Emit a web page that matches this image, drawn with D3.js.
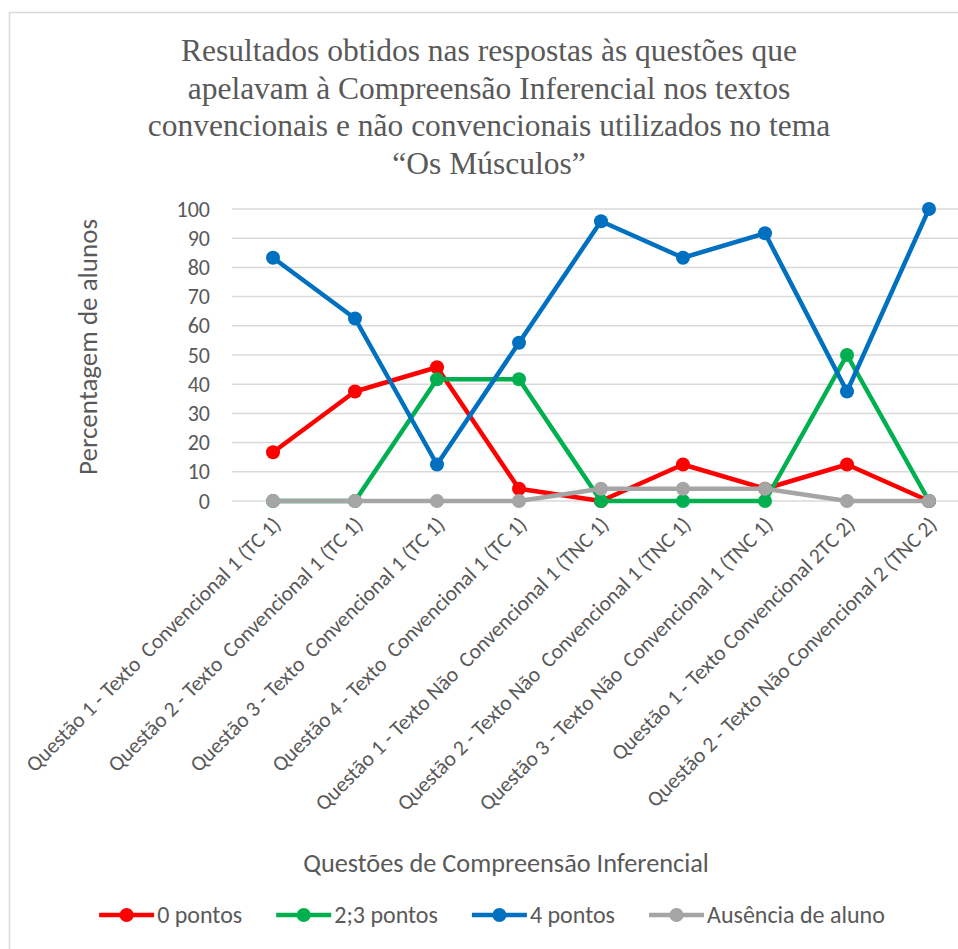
<!DOCTYPE html>
<html>
<head>
<meta charset="utf-8">
<script src="https://cdn.jsdelivr.net/npm/d3@7"></script>
<style>
  body { margin: 0; background: #fff; }
  text { white-space: pre; }
</style>
</head>
<body>
<div id="chart"></div>
<script>
// categories (keep double spaces as in the original labels)
var categories = [
    "Questão 1 - Texto  Convencional 1 (TC 1)",
    "Questão 2 - Texto  Convencional 1 (TC 1)",
    "Questão 3 - Texto  Convencional 1 (TC 1)",
    "Questão 4 - Texto  Convencional 1 (TC 1)",
    "Questão 1 - Texto Não  Convencional 1 (TNC 1)",
    "Questão 2 - Texto Não  Convencional 1 (TNC 1)",
    "Questão 3 - Texto Não  Convencional 1 (TNC 1)",
    "Questão 1 - Texto Convencional 2TC 2)",
    "Questão 2 - Texto Não Convencional 2 (TNC 2)"
];
var seriesNames = ["0 pontos", "2;3 pontos", "4 pontos", "Ausência de aluno"];
var zeroPontos     = [16.7, 37.5, 45.8, 4.2, 0, 12.5, 4.2, 12.5, 0];
var doisTresPontos = [0, 0, 41.7, 41.7, 0, 0, 0, 50, 0];
var quatroPontos   = [83.3, 62.5, 12.5, 54.2, 95.8, 83.3, 91.7, 37.5, 100];
var ausencia       = [0, 0, 0, 0, 4.2, 4.2, 4.2, 0, 0];
var yTicks = [0, 10, 20, 30, 40, 50, 60, 70, 80, 90, 100];
var titleLines = [
    "Resultados obtidos nas respostas às questões que",
    "apelavam à Compreensão Inferencial nos textos",
    "convencionais e não convencionais utilizados no tema",
    "“Os Músculos”"
];
var yTitle = "Percentagem de alunos";
var xTitle = "Questões de Compreensão Inferencial";
var colors = ["#FF0000", "#00B050", "#0070C0", "#A5A5A5"];

var width = 958, height = 949;
var sans = "Carlito, Calibri, Lato, sans-serif";
var textColor = "#595959";

var series = [zeroPontos, doisTresPontos, quatroPontos, ausencia].map(function(vals, i) {
    return { name: seriesNames[i], color: colors[i],
             values: vals.map(function(v, j) { return { cat: categories[j], v: v }; }) };
});

var svg = d3.select("#chart").append("svg")
    .attr("width", width)
    .attr("height", height);

// outer chart border (runs off the right/bottom like the crop)
svg.append("rect")
    .attr("x", 9.5).attr("y", 12.5)
    .attr("width", 1000).attr("height", 1000)
    .attr("fill", "#fff")
    .attr("stroke", "#d9d9d9")
    .attr("stroke-width", 1.5);

var x = d3.scaleBand().domain(categories).range([232, 970]);
var y = d3.scaleLinear().domain([0, 100]).range([501, 209]);

// title
svg.append("text")
    .attr("text-anchor", "middle")
    .attr("font-family", "'Liberation Serif', 'Times New Roman', serif")
    .attr("font-size", 31.5)
    .attr("fill", textColor)
    .selectAll("tspan")
    .data(titleLines)
    .enter().append("tspan")
    .attr("x", 489)
    .attr("y", function(d, i) { return 61 + i * 37.7; })
    .text(function(d) { return d; });

// gridlines
svg.append("g")
    .selectAll("line")
    .data(yTicks)
    .enter().append("line")
    .attr("x1", x.range()[0]).attr("x2", x.range()[1])
    .attr("y1", function(d) { return y(d); })
    .attr("y2", function(d) { return y(d); })
    .attr("stroke", "#d9d9d9")
    .attr("stroke-width", 1.5);

// y axis labels
var yAxis = svg.append("g")
    .attr("transform", "translate(210,0)")
    .call(d3.axisLeft(y).tickValues(yTicks).tickSize(0).tickPadding(0));
yAxis.select(".domain").remove();
yAxis.selectAll("text")
    .attr("font-family", sans)
    .attr("font-size", 22)
    .attr("fill", textColor);

// x axis labels, rotated
var xAxis = svg.append("g")
    .attr("transform", "translate(0,501)")
    .call(d3.axisBottom(x).tickSize(0).tickPadding(0));
xAxis.select(".domain").remove();
xAxis.selectAll("text")
    .attr("font-family", sans)
    .attr("font-size", 21.5)
    .attr("fill", textColor)
    .attr("text-anchor", "end")
    .attr("dy", "0")
    .attr("y", 0)
    .attr("transform", "translate(9,25) rotate(-45)");

// axis titles
svg.append("text")
    .attr("transform", "translate(97,347) rotate(-90)")
    .attr("text-anchor", "middle")
    .attr("font-family", sans)
    .attr("font-size", 27)
    .attr("fill", textColor)
    .text(yTitle);

svg.append("text")
    .attr("x", 506).attr("y", 872)
    .attr("text-anchor", "middle")
    .attr("font-family", sans)
    .attr("font-size", 26.3)
    .attr("fill", textColor)
    .text(xTitle);

// lines + markers
var line = d3.line()
    .x(function(d) { return x(d.cat) + x.bandwidth() / 2; })
    .y(function(d) { return y(d.v); });

var sg = svg.append("g").selectAll("g")
    .data(series)
    .enter().append("g");
sg.append("path")
    .attr("d", function(d) { return line(d.values); })
    .attr("fill", "none")
    .attr("stroke", function(d) { return d.color; })
    .attr("stroke-width", 4.5)
    .attr("stroke-linejoin", "round");
sg.selectAll("circle")
    .data(function(d) { return d.values.map(function(p) { return { p: p, color: d.color }; }); })
    .enter().append("circle")
    .attr("cx", function(d) { return x(d.p.cat) + x.bandwidth() / 2; })
    .attr("cy", function(d) { return y(d.p.v); })
    .attr("r", 7)
    .attr("fill", function(d) { return d.color; });

// legend
var legend = svg.append("g").attr("transform", "translate(0,915)");
var items = legend.selectAll("g")
    .data(series)
    .enter().append("g");
items.append("line")
    .attr("x1", 0).attr("x2", 55)
    .attr("stroke", function(d) { return d.color; })
    .attr("stroke-width", 4.5);
items.append("circle")
    .attr("cx", 27.5).attr("r", 7)
    .attr("fill", function(d) { return d.color; });
items.append("text")
    .attr("x", 58)
    .attr("dy", "0.35em")
    .attr("font-family", sans)
    .attr("font-size", 24)
    .attr("fill", textColor)
    .text(function(d) { return d.name; });

var gap = 34;
var offsets = [], acc = 0;
items.each(function() {
    offsets.push(acc);
    acc += 58 + this.querySelector("text").getComputedTextLength() + gap;
});
var total = acc - gap;
var start = 492 - total / 2;
items.attr("transform", function(d, i) { return "translate(" + (start + offsets[i]) + ",0)"; });
</script>
</body>
</html>
